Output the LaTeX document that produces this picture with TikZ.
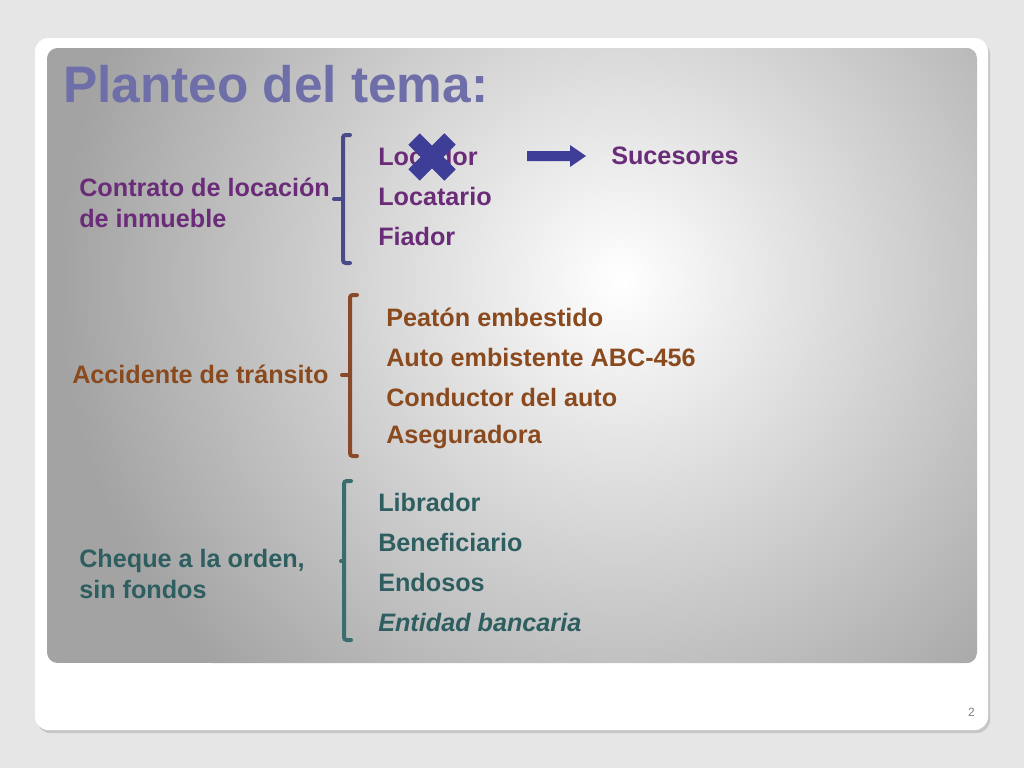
\documentclass[tikz,border=0pt]{standalone}
\usepackage{fontspec}
\setmainfont{Liberation Sans}
\begin{document}
\begin{tikzpicture}[x=0.75pt,y=-0.75pt,
  item/.style={anchor=west,inner sep=0pt,font=\fontsize{18.9}{22}\selectfont\bfseries},
  lbl/.style={anchor=west,inner sep=0pt,align=left,font=\fontsize{18.9}{23}\selectfont\bfseries},
  brk/.style={line width=3pt,rounded corners=2pt,line cap=round}]
\definecolor{bgout}{HTML}{E6E6E6}
\definecolor{ppl}{HTML}{6A2C78}
\definecolor{brn}{HTML}{8A4A1E}
\definecolor{tea}{HTML}{2E5E60}
\definecolor{ttl}{HTML}{6E6EA8}
\definecolor{blu}{HTML}{3E3E98}
\definecolor{b1}{HTML}{4A4A88}
\definecolor{b2}{HTML}{8A4A2A}
\definecolor{b3}{HTML}{3A6E6E}
\useasboundingbox (0,0) rectangle (1024,768);
\fill[bgout] (0,0) rectangle (1024,768);
\fill[gray!45,rounded corners=10pt] (37,41) rectangle (990,733);
\fill[white,rounded corners=10pt] (35,38) rectangle (988,730);
\begin{scope}
\clip[rounded corners=8pt] (47,48) rectangle (977,663);
\fill[black!36] (47,48) rectangle (977,663);
\shade[inner color=white,outer color=black!36] (620,280) circle (560);
\end{scope}
\node[anchor=west,inner sep=0pt,text=ttl,font=\fontsize{38.5}{42}\selectfont\bfseries] (title) at (63,84) {Planteo del tema:};
\node[anchor=east,inner sep=0pt,text=gray,font=\fontsize{9}{10}\selectfont] (pg) at (975,712) {2};
% group 1
\node[lbl,text=ppl] (g1) at (79,203) {Contrato de locación\\de inmueble};
\draw[brk,b1] (350,135) -- (343,135) -- (343,263) -- (350,263);
\draw[brk,b1] (343,199) -- (334,199);
\node[item,text=ppl] (a1) at (378,156) {Locador};
\node[item,text=ppl] (a2) at (378,196) {Locatario};
\node[item,text=ppl] (a3) at (378,236) {Fiador};
\node[item,text=ppl] (suc) at (611,156) {Sucesores};
\draw[blu,line width=12pt] (414,139) -- (450,175) (414,175) -- (450,139);
\fill[blu] (527,151) -- (570,151) -- (570,145) -- (586,156) -- (570,167) -- (570,161) -- (527,161) -- cycle;
% group 2
\node[lbl,text=brn] (g2) at (72,374) {Accidente de tránsito};
\draw[brk,b2] (357,295) -- (350,295) -- (350,456) -- (357,456);
\draw[brk,b2] (350,375) -- (342,375);
\node[item,text=brn] (c1) at (386,317) {Peatón embestido};
\node[item,text=brn] (c2) at (386,357) {Auto embistente ABC-456};
\node[item,text=brn] (c3) at (386,397) {Conductor del auto};
\node[item,text=brn] (c4) at (386,437) {Aseguradora};
% group 3
\node[lbl,text=tea] (g3) at (79,574) {Cheque a la orden,\\sin fondos};
\draw[brk,b3] (351,481) -- (344,481) -- (344,640) -- (351,640);
\draw[brk,b3] (344,561) -- (341,561);
\node[item,text=tea] (d1) at (378,502) {Librador};
\node[item,text=tea] (d2) at (378,542) {Beneficiario};
\node[item,text=tea] (d3) at (378,582) {Endosos};
\node[item,text=tea,font=\fontsize{18.9}{22}\selectfont\bfseries\itshape] (d4) at (378,622) {Entidad bancaria};
\end{tikzpicture}
\end{document}
